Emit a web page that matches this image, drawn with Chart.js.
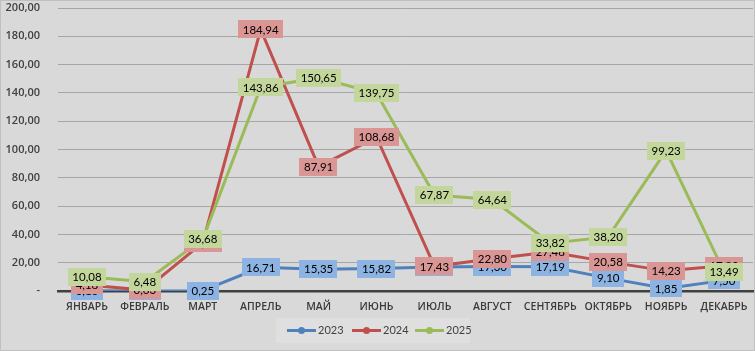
<!DOCTYPE html>
<html><head><meta charset="utf-8">
<script src="https://cdn.jsdelivr.net/npm/chart.js@4"></script>
<style>html,body{margin:0;padding:0;background:#d9d9d9}#wrap{width:755px;height:351px}</style>
</head><body><div id="wrap"><canvas id="c" width="755" height="351"></canvas></div>
<script>
const months = ['ЯНВАРЬ','ФЕВРАЛЬ','МАРТ','АПРЕЛЬ','МАЙ','ИЮНЬ','ИЮЛЬ','АВГУСТ','СЕНТЯБРЬ','ОКТЯБРЬ','НОЯБРЬ','ДЕКАБРЬ'];
const seriesNames = ['2023','2024','2025'];
const values2023 = [0.10, 0.05, 0.25, 16.71, 15.35, 15.82, 16.90, 17.30, 17.19, 9.10, 1.85, 7.50];
const values2024 = [4.18, 0.63, 34.10, 184.94, 87.91, 108.68, 17.43, 22.80, 27.48, 20.58, 14.23, 17.80];
const values2025 = [10.08, 6.48, 36.68, 143.86, 150.65, 139.75, 67.87, 64.64, 33.82, 38.20, 99.23, 13.49];
const yTicks = [0,20,40,60,80,100,120,140,160,180,200];

const lineColors = ['#4f81bd','#c0504d','#9bbb59'];
const labelFills = ['#8db3e2','#d99694','#c3d69b'];
const NUMFONT = 'Lato, "Open Sans", sans-serif';
const AXFONT = '"Open Sans", "Noto Sans", sans-serif';

const fmt = v => v.toFixed(2).replace('.', ',');

const bgPlugin = {
  id:'bg',
  beforeDraw(chart){
    const ctx = chart.ctx;
    ctx.save();
    ctx.fillStyle = '#d9d9d9';
    ctx.fillRect(0,0,chart.width,chart.height);
    ctx.strokeStyle = '#c0c0c0';
    ctx.lineWidth = 1;
    ctx.strokeRect(0.5,0.5,chart.width-1,chart.height-1);
    ctx.restore();
  }
};

const labelPlugin = {
  id:'dlabels',
  afterDatasetsDraw(chart){
    const ctx = chart.ctx;
    ctx.save();
    ctx.font = '11.5px ' + NUMFONT;
    ctx.textAlign = 'center';
    ctx.textBaseline = 'middle';
    chart.data.datasets.forEach((ds, i) => {
      const meta = chart.getDatasetMeta(i);
      meta.data.forEach((pt, j) => {
        const txt = fmt(ds.data[j]);
        const w = ctx.measureText(txt).width + 9;
        const h = 18;
        ctx.fillStyle = labelFills[i];
        ctx.fillRect(Math.round(pt.x - w/2), Math.round(pt.y - h/2), Math.round(w), h);
        ctx.fillStyle = '#000';
        ctx.fillText(txt, pt.x, pt.y + 0.5);
      });
    });
    ctx.restore();
  }
};

const legendPlugin = {
  id:'customLegend',
  afterDraw(chart){
    const ctx = chart.ctx;
    ctx.save();
    ctx.fillStyle = '#dfdfdf';
    ctx.fillRect(276, 318, 194, 25);
    ctx.font = '11px ' + NUMFONT;
    ctx.textBaseline = 'middle';
    ctx.textAlign = 'left';
    const starts = [287, 352, 415];
    const yc = 330.5;
    chart.data.datasets.forEach((ds, i) => {
      const x0 = starts[i];
      ctx.strokeStyle = ds.borderColor;
      ctx.lineWidth = 3;
      ctx.beginPath(); ctx.moveTo(x0, yc); ctx.lineTo(x0+29, yc); ctx.stroke();
      ctx.fillStyle = ds.borderColor;
      ctx.beginPath(); ctx.arc(x0+14.5, yc, 3.5, 0, Math.PI*2); ctx.fill();
      ctx.fillStyle = '#404040';
      ctx.fillText(ds.label, x0+31, yc);
    });
    ctx.restore();
  }
};

const allValues = [values2023, values2024, values2025];
const datasets = seriesNames.map((name, i) => ({
  label: name,
  data: allValues[i],
  borderColor: lineColors[i],
  backgroundColor: lineColors[i],
  pointBackgroundColor: lineColors[i],
  pointBorderColor: lineColors[i],
  pointRadius: 6.5,
  pointHoverRadius: 6.5,
  borderWidth: 3,
  tension: 0,
  order: 2 - i
}));

new Chart(document.getElementById('c'), {
  type:'line',
  data:{ labels: months, datasets },
  plugins:[bgPlugin, labelPlugin, legendPlugin],
  options:{
    responsive:false,
    animation:false,
    events:[],
    layout:{ autoPadding:false, padding:{ left:0, right:2, top:8, bottom:0 } },
    plugins:{ legend:{display:false}, tooltip:{enabled:false} },
    scales:{
      x:{
        offset:true,
        grid:{ display:false, drawTicks:false },
        border:{ display:true, color:'#404040', width:2.5 },
        ticks:{ color:'#3a3a3a', font:{ family:AXFONT, size:10.5, weight:'600' }, padding:10, maxRotation:0, autoSkip:false },
        afterFit(s){ s.height = 60; s.paddingLeft = 0; s.paddingRight = 0; }
      },
      y:{
        min:0, max:200,
        afterBuildTicks(s){ s.ticks = yTicks.map(v => ({value:v})); },
        grid:{ color:'#a6a6a6', lineWidth:1, drawTicks:false },
        border:{ display:false },
        ticks:{ color:'#404040', font:{ family:AXFONT, size:11, weight:'600' }, padding:18,
          callback:v => v === 0 ? '-' : fmt(v) },
        afterFit(s){ s.width = 58; s.paddingTop = 0; s.paddingBottom = 0; }
      }
    }
  }
});
</script></body></html>
